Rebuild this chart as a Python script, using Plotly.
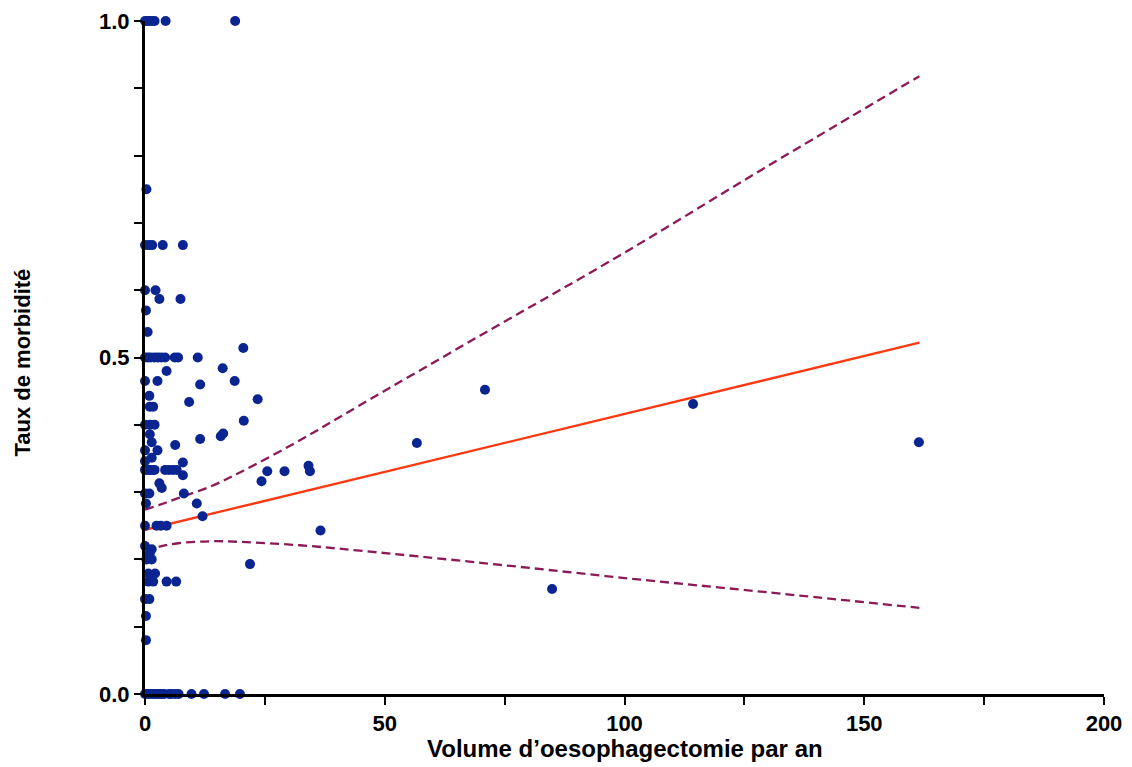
import plotly.graph_objects as go

# ---- data ----
pts_x = [
    0, 0.5, 1, 1.5, 2, 4.3, 18.8,            # y = 1.0
    0.3,                                     # 0.75
    0, 0.8, 1.5, 3.7, 7.9,                   # 0.667
    0, 2.2, 3.0, 7.4, 0.2, 0.55,             # 0.6, 0.587, 0.57, 0.538
    0, 0.6, 1.2, 2, 2.7, 3.4, 4.2, 6.2, 6.9, 11.0,   # 0.5
    20.5, 16.2, 4.5,
    0, 2.6, 18.7, 11.5,
    0.9, 23.5, 9.2, 1, 1.7,
    20.6, 0, 1, 2,
    1, 15.8, 16.3, 11.5, 1.4, 6.3,
    0, 2.6, 1.4, 0, 7.9,
    0, 0.5, 1, 1.5, 2, 4.2, 5, 5.8, 6.6,     # 0.333
    25.5, 29.1, 34.4, 34.1,
    7.9, 24.3, 3.0, 3.5,
    0, 0.9, 8.1, 0.2, 10.8, 12.0,
    0, 2.4, 3.3, 4.5, 36.6,
    0, 1.4, 1.0, 0.3, 1.4, 21.9,
    0.7, 2.1, 0.7, 1.7, 4.5, 6.5,
    0, 0.9, 0.2, 0.2,
    0, 0.5, 1, 1.5, 2, 2.5, 3, 3.5, 4, 5, 5.5, 6.3, 7, 9.7, 12.3, 16.7, 19.8,  # y = 0
    56.7, 70.9, 84.9, 114.3, 161.4,
]
pts_y = [
    1, 1, 1, 1, 1, 1, 1,
    0.75,
    0.667, 0.667, 0.667, 0.667, 0.667,
    0.6, 0.6, 0.587, 0.587, 0.57, 0.538,
    0.5, 0.5, 0.5, 0.5, 0.5, 0.5, 0.5, 0.5, 0.5, 0.5,
    0.514, 0.484, 0.48,
    0.465, 0.465, 0.465, 0.46,
    0.443, 0.438, 0.434, 0.427, 0.427,
    0.406, 0.4, 0.4, 0.4,
    0.386, 0.383, 0.387, 0.379, 0.374, 0.37,
    0.362, 0.362, 0.351, 0.346, 0.344,
    0.333, 0.333, 0.333, 0.333, 0.333, 0.333, 0.333, 0.333, 0.333,
    0.331, 0.331, 0.331, 0.339,
    0.325, 0.316, 0.313, 0.306,
    0.298, 0.298, 0.298, 0.283, 0.283, 0.264,
    0.25, 0.25, 0.25, 0.25, 0.243,
    0.22, 0.215, 0.209, 0.2, 0.2, 0.193,
    0.179, 0.179, 0.167, 0.167, 0.167, 0.167,
    0.141, 0.141, 0.116, 0.08,
    0, 0, 0, 0, 0, 0, 0, 0, 0, 0, 0, 0, 0, 0, 0, 0, 0,
    0.373, 0.452, 0.156, 0.431, 0.374,
]

fit_x = [0, 161.5]
fit_y = [0.244, 0.522]

band_x = [0, 3, 6.9, 13.9, 20, 32.3, 44.8, 70, 99.1, 130, 161.5]
band_upper = [0.274, 0.281, 0.291, 0.309, 0.330, 0.377, 0.429, 0.533, 0.652, 0.785, 0.918]
band_lower = [0.213, 0.219, 0.224, 0.227, 0.226, 0.221, 0.213, 0.195, 0.173, 0.151, 0.128]

x_ticks = [0, 25, 50, 75, 100, 125, 150, 175, 200]
x_ticktext = ["0", "", "50", "", "100", "", "150", "", "200"]
y_ticks = [0, 0.1, 0.2, 0.3, 0.4, 0.5, 0.6, 0.7, 0.8, 0.9, 1.0]
y_ticktext = ["0.0", "", "", "", "", "0.5", "", "", "", "", "1.0"]

x_title = "Volume d’oesophagectomie par an"
y_title = "Taux de morbidité"

FONT = "Liberation Sans, Arial, Helvetica, sans-serif"
BAND = "#8b1a56"

fig = go.Figure()
fig.add_trace(go.Scatter(x=band_x, y=band_upper, mode="lines", line=dict(color=BAND, width=2.3, dash="9px,5px", shape="spline"),
                         hoverinfo="skip", cliponaxis=False))
fig.add_trace(go.Scatter(x=band_x, y=band_lower, mode="lines", line=dict(color=BAND, width=2.3, dash="9px,5px", shape="spline"),
                         hoverinfo="skip", cliponaxis=False))
fig.add_trace(go.Scatter(x=fit_x, y=fit_y, mode="lines", line=dict(color="#ff3810", width=2.3), cliponaxis=False))
fig.add_trace(go.Scatter(x=pts_x, y=pts_y, mode="markers",
                         marker=dict(color="#0a2591", size=10, line=dict(width=0)), cliponaxis=False))

# the page body adds an 8px margin; size the figure so the plot lands where the reference has it
fig.update_layout(
    width=1116, height=759,
    margin=dict(l=137, r=20, t=13, b=73),
    plot_bgcolor="white", paper_bgcolor="white",
    showlegend=False,
    font=dict(family=FONT, color="black"),
    annotations=[
        dict(text=x_title, xref="paper", yref="paper", x=0.5, y=0, xanchor="center", yanchor="middle",
             yshift=-54, showarrow=False, font=dict(size=24, family=FONT, weight="bold", color="black")),
        dict(text=y_title, xref="paper", yref="paper", x=0, y=0.5, xanchor="center", yanchor="middle",
             xshift=-123, yshift=-5, textangle=-90, showarrow=False,
             font=dict(size=22, family=FONT, weight="bold", color="black")),
    ],
)
fig.update_xaxes(
    range=[0, 200], showgrid=False, zeroline=False, automargin=False,
    showline=True, linecolor="black", linewidth=3,
    ticks="outside", ticklen=8, tickwidth=2, tickcolor="black",
    tickvals=x_ticks, ticktext=x_ticktext,
    tickfont=dict(size=22, family=FONT, weight="bold"),
)
fig.update_yaxes(
    range=[0, 1], showgrid=False, zeroline=False, automargin=False,
    showline=True, linecolor="black", linewidth=3,
    ticks="outside", ticklen=8, tickwidth=2, tickcolor="black",
    tickvals=y_ticks, ticktext=y_ticktext,
    tickfont=dict(size=22, family=FONT, weight="bold"),
)

fig.write_html("out.html")
